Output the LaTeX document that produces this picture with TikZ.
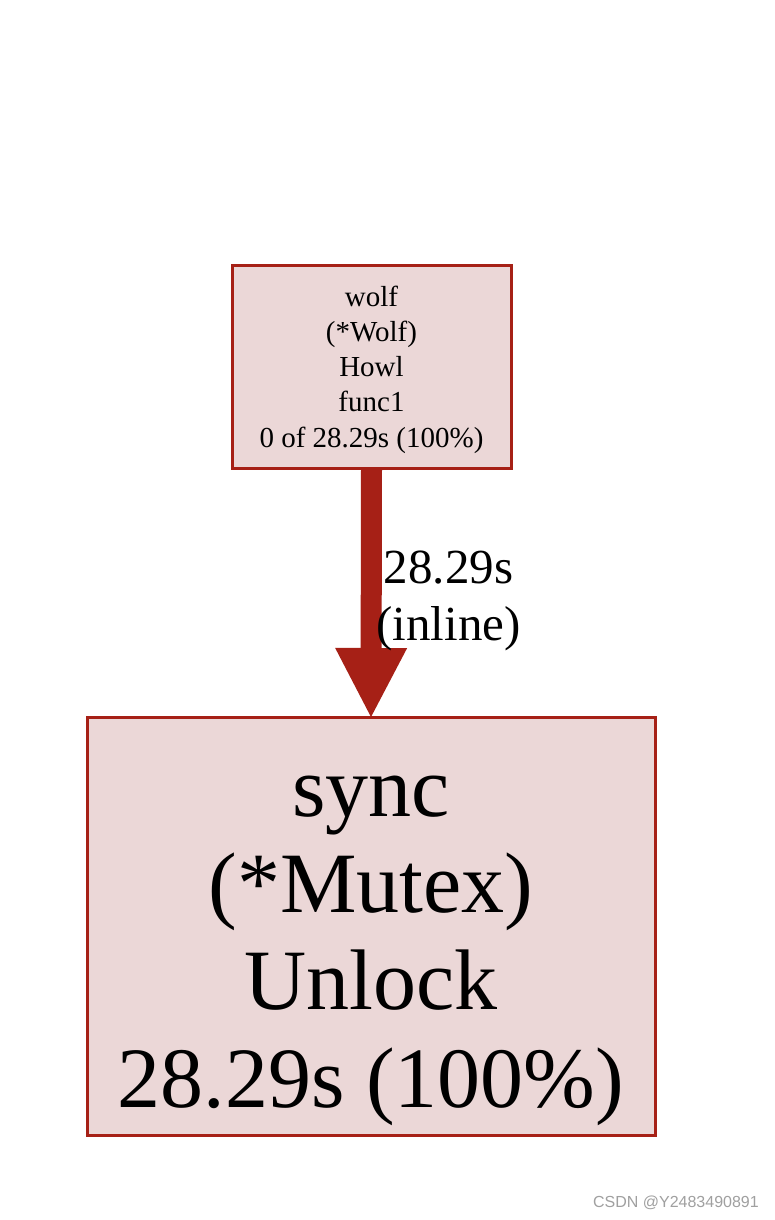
\documentclass[tikz,border=0pt]{standalone}
\usepackage{fontspec}
\setmainfont{Liberation Serif}
\newfontfamily\wmfont{Liberation Sans}
\usetikzlibrary{arrows.meta}
\definecolor{boxfill}{RGB}{235,215,215}
\definecolor{boxline}{RGB}{166,32,22}
\definecolor{wmgray}{RGB}{160,160,160}
\tikzset{
  fnbox/.style={draw=boxline, fill=boxfill, line width=3pt, inner sep=0pt, outer sep=0pt},
  smalltxt/.style={anchor=base, inner sep=0pt, font=\fontsize{29}{34}\selectfont},
  bigtxt/.style={anchor=base, inner sep=0pt, font=\fontsize{86}{97}\selectfont},
  edgetxt/.style={anchor=base, inner sep=0pt, font=\fontsize{49}{58}\selectfont},
  fatarrow/.style={draw=boxline, line width=21pt,
    -{Triangle[width=72pt,length=69pt,line width=0pt,fill=boxline]}}
}
\begin{document}
\begin{tikzpicture}[x=1pt,y=-1pt]
\useasboundingbox (0,0) rectangle (774,1220);
\fill[white] (0,0) rectangle (774,1220);
% boxes
\node[fnbox, minimum width=279pt, minimum height=203pt] (wolf) at (371.5,366.5) {};
\node[fnbox, minimum width=568pt, minimum height=418pt] (sync) at (371,926) {};
% connector
\draw[fatarrow] (wolf.south) -- (sync.north);
% top box text
\node[smalltxt] (w1) at (371.5,306) {wolf};
\node[smalltxt] (w2) at (371.5,341.25) {(*Wolf)};
\node[smalltxt] (w3) at (371.5,376.5) {Howl};
\node[smalltxt] (w4) at (371.5,411.75) {func1};
\node[smalltxt] (w5) at (371.5,447) {0 of 28.29s (100\%)};
% bottom box text
\node[bigtxt] (s1) at (371,816) {sync};
\node[bigtxt] (s2) at (371,912) {(*Mutex)};
\node[bigtxt] (s3) at (371,1009) {Unlock};
\node[bigtxt] (s4) at (371,1107) {28.29s (100\%)};
% edge label
\node[edgetxt] (e1) at (448.5,583) {28.29s};
\node[edgetxt] (e2) at (448.5,640) {(inline)};
% watermark
\node[anchor=base east, inner sep=0pt, text=wmgray, font=\wmfont\fontsize{16}{18}\selectfont] (wm) at (759,1207) {CSDN @Y2483490891};
\end{tikzpicture}
\end{document}
